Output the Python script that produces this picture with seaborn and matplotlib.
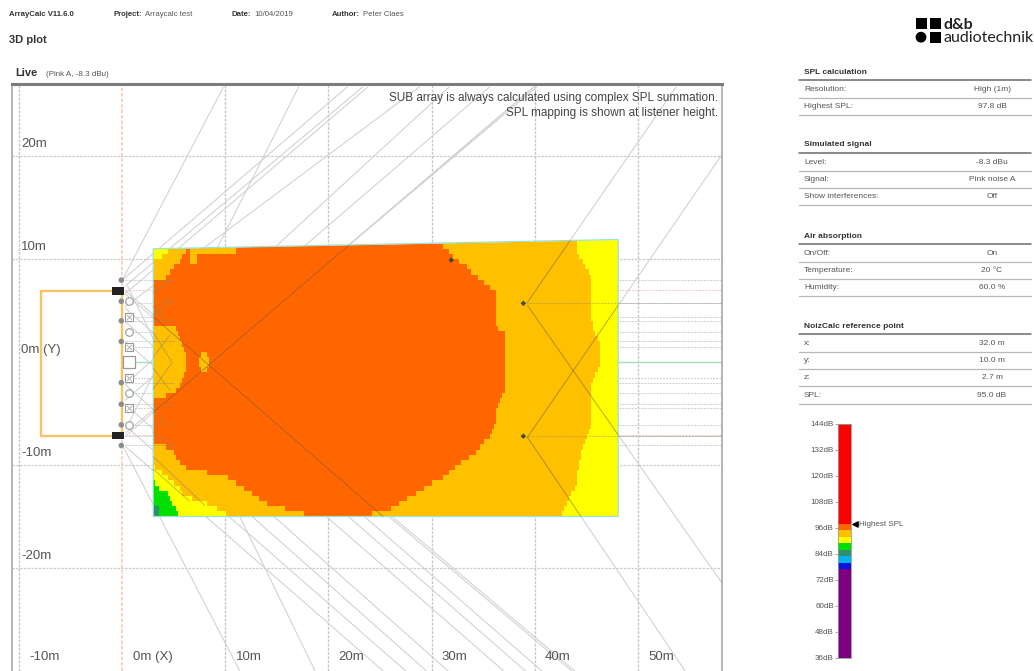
"""ArrayCalc style 3D plot page: SPL map, speaker rays, summary tables and level bar."""

import numpy as np
import pandas as pd
import seaborn as sns
import matplotlib

matplotlib.use("Agg")
import matplotlib.pyplot as plt
from matplotlib.colors import BoundaryNorm, ListedColormap
from matplotlib.patches import Circle, Polygon, Rectangle

W, H = 1034, 671

# level bar
BAR_BOUNDS = [36, 77, 80, 83, 86, 89, 92, 95, 98, 144]
BAR_COLORS = ["#7B0080", "#0A14E0", "#00B4F0", "#2E8F6A", "#00E000", "#FFFF00", "#FFC000", "#FF6600", "#FF0000"]
BAR_TICKS = [144, 132, 120, 108, 96, 84, 72, 60, 48, 36]
HIGHEST_SPL = 97.8

# SPL per zone, one value inside each colour band of the bar
DARK_GREEN, GREEN, YELLOW, GOLD, ORANGE = 84.5, 87.5, 90.5, 93.5, 96.5

# listening area outline in metres
VENUE_X = [3.0, 48.1, 48.1, 3.0]
VENUE_Y = [-15.0, -15.0, 11.9, 11.0]

# SPL map rows, 0.5 m apart, top to bottom; each list is where a zone stops along x
ROW_Y = np.arange(11.75, -15.0, -0.5)
LEFT_CORNER_END = [3.0] * 52 + [3.7, 3.7]
LEFT_GREEN_END = [3.0] * 47 + [3.3, 3.7, 4.4, 4.6, 4.9, 5.2, 5.5]
LEFT_YELLOW_END = [3.0, 4.4, 4.4, 3.9] + [3.0] * 40 + [3.3, 3.9, 4.4, 5.1, 5.6, 5.9, 6.8, 8.3, 9.2, 10.0]
LEFT_GOLD_END = [
    3, 6.3, 6.3, 5.9, 5.6, 5.1, 4.6, 4.2, 3, 3,
    3, 3, 3, 3, 3, 3, 3, 5.3, 5.5, 5.7,
    5.8, 6.0, 6.2, 6.3, 6.3, 6.2, 6.1, 5.9, 5.7, 5.3,
    4.2, 3, 3, 3, 3, 3, 3, 3, 3, 3,
    4.2, 5.0, 5.3, 5.7, 6.3, 8.3, 10.3, 11.1, 11.9, 12.6,
    13.3, 14.1, 15.8, 17.7,
]
ORANGE_END = [
    30.5, 31.0, 31.6, 32.1, 32.7, 33.4, 33.8, 34.4, 35.0, 35.6,
    36.3, 36.3, 36.3, 36.3, 36.3, 36.3, 36.3, 36.5, 37, 37,
    37, 37, 37, 37, 37, 37, 37, 37, 37, 37,
    36.9, 36.6, 36.4, 36.3, 36.3, 36.2, 36.1, 35.9, 35.6, 35.1,
    34.7, 34.2, 33.7, 32.9, 32.2, 31.7, 31.0, 30.1, 29.3, 28.4,
    27.6, 26.9, 26.0, 24.3,
]
GOLD_END = [
    44.0, 44.0, 44.1, 44.2, 44.6, 44.9, 45.2, 45.4, 45.5, 45.5,
    45.5, 45.5, 45.5, 45.5, 45.5, 45.5, 45.6, 45.7, 45.9, 46.1,
    46.2, 46.2, 46.2, 46.2, 46.2, 46.1, 45.9, 45.6, 45.5, 45.5,
    45.5, 45.5, 45.5, 45.5, 45.5, 45.5, 45.4, 45.2, 45.0, 44.8,
    44.6, 44.5, 44.4, 44.3, 44.2, 44.1, 44.0, 44.0, 43.8, 43.5,
    43.3, 43.1, 42.9, 42.6,
]
# gold islands inside the orange zone
PATCH_Y = [11.25, 10.75, 10.25, 9.75, 0.75, 0.25, -0.25, -0.75]
PATCH_X0 = [6.6, 6.6, 6.6, 6.6, 7.7, 7.4, 7.4, 7.7]
PATCH_X1 = [11.1, 11.1, 7.25, 7.25, 8.2, 8.4, 8.4, 8.2]

# speaker rays in metres: x0, y0, x1, y1
RAYS = [
    (0.0, 7.96, 9.8, 26.7), (0.5, -6.2, 17.1, 26.7), (0.0, 7.96, 21.8, 26.7),
    (0.3, 7.4, 23.3, 26.7), (0.3, 6.65, 23.8, 26.7), (0.3, 5.4, 28.8, 26.7),
    (0.3, -2.2, 31.7, 26.7), (0.3, -3.7, 35.6, 26.7), (0.3, -7.2, 39.9, 26.7),
    (0.3, -6.9, 40.2, 26.7), (0.0, -8.06, 11.4, -30.0), (0.5, 7.4, 18.7, -30.0),
    (0.3, -8.2, 25.3, -30.0), (0.3, -6.2, 27.5, -30.0), (0.3, -4.1, 29.5, -30.0),
    (0.3, -2.2, 31.6, -30.0), (0.3, 2.0, 37.0, -30.0), (0.3, 3.9, 39.1, -30.0),
    (0.3, 5.2, 40.7, -30.0), (0.3, 6.6, 43.6, -30.0), (0.3, 6.9, 43.9, -30.0),
]
# rays that also show on top of the map
MAP_RAYS = [
    (3.0, -4.9, 39.9, 26.7), (3.0, 4.4, 25.3, -15.0),
    (39.3, 5.8, 53.7, 26.7), (39.3, -7.3, 58.2, 20.2),
    (39.3, 5.5, 58.2, -21.5), (39.3, -7.3, 54.6, -30.0),
]
SHORT_RAYS = [
    (3.0, 6.7, 4.8, 8.0), (3.0, 4.6, 4.8, 6.0), (3.0, 5.4, 4.2, 4.1),
    (3.0, 2.9, 4.8, 0.0), (3.0, 0.5, 4.6, 2.6), (3.0, -2.6, 4.8, -0.1),
    (3.0, -0.6, 4.6, -2.7), (3.0, -4.6, 4.2, -6.0), (3.0, -6.8, 4.8, -8.2),
    (3.0, -9.2, 8.0, -13.9), (3.0, -10.4, 6.5, -13.5),
]

# horizontal beams running out to the right edge
BEAM_Y = [7.96, 5.7, 4.4, 4.0, 2.9, 2.0, 1.45, -1.55, -2.0, -3.0, -4.1, -4.5, -6.1, -7.2, -8.1]
PINK_Y = [7.0, -7.1]

# loudspeakers
ARRAY_Y = [7.96, 5.9, 4.0, 2.0, -2.0, -4.1, -6.1, -8.1]
SUB_ROUND_Y = [5.97, 2.9, -3.0, -6.1]
SUB_CROSS_Y = [4.4, 1.45, -1.55, -4.5]
SUB_X = 0.65
FLOWN_Y = [6.9, -7.15]
TARGET_X, TARGET_Y = [38.9, 38.9, 31.9], [5.7, -7.2, 9.9]

X_GRID = [-10, 0, 10, 20, 30, 40, 50]
Y_GRID = [20, 10, -10, -20]
X_LABELS = ["-10m", "0m (X)", "10m", "20m", "30m", "40m", "50m"]
Y_LABEL_POS = [20, 10, 0, -10, -20]
Y_LABELS = ["20m", "10m", "0m (Y)", "-10m", "-20m"]

NOTES = ["SUB array is always calculated using complex SPL summation.", "SPL mapping is shown at listener height."]

HEADER = [
    (9, "ArrayCalc V11.6.0", ""),
    (113, "Project:", "Arraycalc test"),
    (232, "Date:", "10/04/2019"),
    (332, "Author:", "Peter Claes"),
]

TABLE_TITLES = ["SPL calculation", "Simulated signal", "Air absorption", "NoizCalc reference point"]
TABLE_TOPS = [72, 145, 236, 326]
TABLE_ROWS = [
    [("Resolution:", "High (1m)"), ("Highest SPL:", "97.8 dB")],
    [("Level:", "-8.3 dBu"), ("Signal:", "Pink noise A"), ("Show interferences:", "Off")],
    [("On/Off:", "On"), ("Temperature:", "20 °C"), ("Humidity:", "60.0 %")],
    [("x:", "32.0 m"), ("y:", "10.0 m"), ("z:", "2.7 m"), ("SPL:", "95.0 dB")],
]


def spl_grid(cell_x):
    grid = pd.DataFrame(index=ROW_Y, columns=cell_x, dtype=float)
    for i in range(len(ROW_Y)):
        row = np.full(len(cell_x), YELLOW)
        row[cell_x < GOLD_END[i]] = GOLD
        row[cell_x < ORANGE_END[i]] = ORANGE
        row[cell_x < LEFT_GOLD_END[i]] = GOLD
        row[cell_x < LEFT_YELLOW_END[i]] = YELLOW
        row[cell_x < LEFT_GREEN_END[i]] = GREEN
        row[cell_x < LEFT_CORNER_END[i]] = DARK_GREEN
        grid.iloc[i] = row
    for y, x0, x1 in zip(PATCH_Y, PATCH_X0, PATCH_X1):
        i = int(np.argmin(np.abs(ROW_Y - y)))
        grid.iloc[i, (cell_x >= x0) & (cell_x < x1)] = GOLD
    return grid


def px_axes(fig, left, top, right, bottom, **kwargs):
    return fig.add_axes([left / W, 1 - bottom / H, (right - left) / W, (bottom - top) / H], **kwargs)


def draw_page(page):
    page.set_xlim(0, W)
    page.set_ylim(H, 0)
    page.axis("off")

    for x, name, value in HEADER:
        t = page.text(x, 14, name, fontsize=5.6, fontweight="bold", color="#333333", va="center")
        if value:
            end = t.get_window_extent(page.figure.canvas.get_renderer()).x1
            page.text(end + 3, 14, value, fontsize=5.6, color="#555555", va="center")
    page.text(9, 40, "3D plot", fontsize=8, fontweight="bold", color="#333333", va="center")
    page.text(15, 73, "Live", fontsize=8, fontweight="bold", color="#333333", va="center")
    page.text(46, 74, "(Pink A, -8.3 dBu)", fontsize=5.8, color="#555555", va="center")

    # logo
    for x, y in [(916, 18), (930, 18), (930, 32)]:
        page.add_patch(Rectangle((x, y), 10.5, 10.5, color="black", lw=0))
    page.add_patch(Circle((921, 37.2), 5.4, color="black", lw=0))
    page.text(944, 25, "d&b", fontsize=11.5, fontweight="bold", family="Lato", color="#222222", va="center")
    page.text(943, 38, "audiotechnik", fontsize=11.5, family="Lato", color="#222222", va="center")

    for title, top, rows in zip(TABLE_TITLES, TABLE_TOPS, TABLE_ROWS):
        page.text(804, top, title, fontsize=6, fontweight="bold", color="#333333", va="center")
        page.plot([799, 1031], [top + 8, top + 8], color="#6A6A6A", lw=1.1)
        for r, (name, value) in enumerate(rows):
            y = top + 17.3 * (r + 1)
            page.text(804, y, name, fontsize=6, color="#555555", va="center")
            page.text(992, y, value, fontsize=6, color="#555555", va="center", ha="center")
            page.plot([799, 1031], [y + 8.5, y + 8.5], color="#B8B8B8", lw=0.9)


def draw_level_bar(fig, cmap, norm):
    bar = px_axes(fig, 838, 424, 851, 658)
    levels = pd.DataFrame({"spl": np.arange(143.5, 36, -1.0)})
    sns.heatmap(levels, ax=bar, cmap=cmap, norm=norm, cbar=False, xticklabels=False, yticklabels=False)
    bar.set_ylabel("")
    bar.set_yticks([144 - t for t in BAR_TICKS])
    bar.set_yticklabels([f"{t}dB" for t in BAR_TICKS], fontsize=5.8, color="#555555", rotation=0)
    bar.tick_params(axis="y", length=2, width=0.5, pad=1, color="#888888", left=True)
    for side in ("left", "right", "top", "bottom"):
        bar.spines[side].set_visible(True)
        bar.spines[side].set_color("#9A9A9A")
        bar.spines[side].set_linewidth(0.6)
    mark_y = 144 - HIGHEST_SPL
    bar.scatter([1.3], [mark_y], marker="<", s=14, color="black", clip_on=False, zorder=5)
    bar.text(1.62, mark_y, "Highest SPL", fontsize=5.8, color="#555555", va="center",
             transform=bar.get_yaxis_transform())


def main():
    sns.set_theme(style="white")
    plt.rcParams["font.family"] = ["Liberation Sans", "DejaVu Sans"]

    fig = plt.figure(figsize=(W / 100, H / 100), dpi=100, facecolor="white")
    page = fig.add_axes([0, 0, 1, 1], zorder=0)
    fig.canvas.draw()
    draw_page(page)

    cmap = ListedColormap(BAR_COLORS)
    norm = BoundaryNorm(BAR_BOUNDS, cmap.N)

    # plan view, everything below the SPL map
    ax = px_axes(fig, 12, 84, 722, 671, zorder=1)
    ax.set_xlim(-10.7, 58.17)
    ax.set_ylim(-30, 27)
    ax.set_xticks([])
    ax.set_yticks([])
    for x in X_GRID:
        color = "#F8D0BE" if x == 0 else "#C4C8C8"
        ax.axvline(x, color=color, lw=1.0 if x else 1.3, ls=(0, (2, 1)))
    for y in Y_GRID:
        ax.axhline(y, color="#CCCCCC", lw=0.9, ls=(0, (2, 1)))
    for x0, y0, x1, y1 in RAYS + MAP_RAYS:
        ax.plot([x0, x1], [y0, y1], color="#D0D0D0", lw=0.75)
    for y in BEAM_Y:
        ax.plot([0.3, 58.17], [y, y], color="#D2D2D2", lw=0.75, ls=(0, (2, 1)))
    for y in PINK_Y:
        ax.plot([0.3, 58.17], [y, y], color="#F0CCCC", lw=0.8, ls=(0, (2, 1)))
    ax.plot([0.3, 58.17], [0, 0], color="#A5DDB4", lw=1.0)
    ax.spines["top"].set_color("#7C7C7C")
    ax.spines["top"].set_linewidth(2.2)
    ax.spines["bottom"].set_visible(False)
    for side in ("left", "right"):
        ax.spines[side].set_color("#A8A8A8")
        ax.spines[side].set_linewidth(1.2)

    # SPL map sits in its own axes over the venue footprint
    to_fig = fig.transFigure.inverted()
    (x0, y0), (x1, y1) = to_fig.transform(ax.transData.transform([(3.0, -15.0), (48.1, 12.0)]))
    heat = fig.add_axes([x0, y0, x1 - x0, y1 - y0], zorder=2)
    cell_x = np.arange(3.1, 48.1, 0.2)
    sns.heatmap(spl_grid(cell_x), ax=heat, cmap=cmap, norm=norm, cbar=False, xticklabels=False, yticklabels=False)
    outline = Polygon(list(zip(VENUE_X, VENUE_Y)), closed=True, transform=ax.transData)
    heat.collections[0].set_clip_path(outline)
    heat.patch.set_alpha(0)
    heat.axis("off")

    # everything drawn over the map
    over = fig.add_axes(ax.get_position(), zorder=3, sharex=ax, sharey=ax)
    over.patch.set_alpha(0)
    over.axis("off")
    over.add_patch(Polygon(list(zip(VENUE_X, VENUE_Y)), closed=True, fill=False, ec="#9AE2D8", lw=0.9))
    for x0, y0, x1, y1 in MAP_RAYS:
        line, = over.plot([x0, x1], [y0, y1], color="#6A5A40", lw=0.65, alpha=0.55)
        # only the stretch across the venue is darker, the rest is the pale ray below
        line.set_clip_path(Polygon(list(zip(VENUE_X, VENUE_Y)), closed=True, transform=over.transData))
    for x0, y0, x1, y1 in SHORT_RAYS:
        over.plot([x0, x1], [y0, y1], color="#8A8A70", lw=0.65, alpha=0.6)
    for y in ARRAY_Y:
        over.plot([3.0, 5.0], [y, y], color="#8A8A70", lw=0.65, alpha=0.6, ls=(0, (2, 1)))
    for y in TARGET_Y[:2]:
        over.plot([38.9, 58.17], [y, y], color="#8A8670", lw=0.75, alpha=0.45, ls=(0, (2, 1)))

    # suspension frame and cabinets
    over.plot([0, -7.9, -7.9, 0, 0], [6.9, 6.9, -7.15, -7.15, 6.9], color="#F5C465", lw=1.7)
    for y in FLOWN_Y:
        over.add_patch(Rectangle((-1.0, y - 0.35), 1.15, 0.7, color="#222222", lw=0, zorder=4))
    sns.scatterplot(x=[-0.1] * len(ARRAY_Y), y=ARRAY_Y, ax=over, marker="o", s=16, color="#8C8C8C",
                    edgecolor="none", legend=False, zorder=4)
    sns.scatterplot(x=[SUB_X] * len(SUB_ROUND_Y), y=SUB_ROUND_Y, ax=over, marker="o", s=30, facecolor="white",
                    edgecolor="#9A9A9A", linewidth=0.8, legend=False, zorder=4)
    sns.scatterplot(x=[SUB_X] * len(SUB_CROSS_Y), y=SUB_CROSS_Y, ax=over, marker="s", s=26, facecolor="white",
                    edgecolor="#9A9A9A", linewidth=0.8, legend=False, zorder=4)
    sns.scatterplot(x=[SUB_X] * len(SUB_CROSS_Y), y=SUB_CROSS_Y, ax=over, marker="x", s=14, color="#A4A4A4",
                    linewidth=0.6, legend=False, zorder=5)
    sns.scatterplot(x=[SUB_X], y=[0], ax=over, marker="s", s=80, facecolor="white",
                    edgecolor="#9A9A9A", linewidth=0.9, legend=False, zorder=4)
    sns.scatterplot(x=TARGET_X, y=TARGET_Y, ax=over, marker="D", s=8, color="#4A4A3A", edgecolor="none",
                    legend=False, zorder=4)

    # labels
    for x, label in zip(X_GRID, X_LABELS):
        over.text(x + 1.0, -28.6, label, fontsize=9.5, color="#555555", va="center")
    for y, label in zip(Y_LABEL_POS, Y_LABELS):
        over.text(-9.8, y + 1.15, label, fontsize=9.5, color="#555555", va="center")
    for i, line in enumerate(NOTES):
        over.text(57.8, 25.6 - 1.45 * i, line, fontsize=8.45, color="#444444", ha="right", va="center")

    draw_level_bar(fig, cmap, norm)
    fig.savefig("out.png", dpi=100)


if __name__ == "__main__":
    main()
